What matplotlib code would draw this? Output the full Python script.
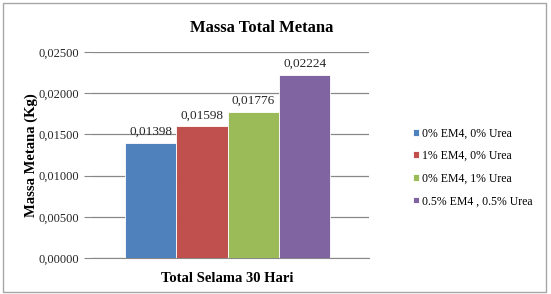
import matplotlib.pyplot as plt
import matplotlib as mpl
import matplotlib.ticker as ticker

mpl.rcParams.update({
    'font.family': ['Liberation Serif', 'DejaVu Serif'],
    'font.size': 8,
})

seri = ['0% EM4, 0% Urea', '1% EM4, 0% Urea', '0% EM4, 1% Urea', '0.5% EM4 , 0.5% Urea']
nilai = [0.01398, 0.01598, 0.01776, 0.02224]
label_nilai = ['0,01398', '0,01598', '0,01776', '0,02224']
kategori = 'Total Selama 30 Hari'
warna = ['#4F81BD', '#C0504D', '#9BBB59', '#8064A2']

fig = plt.figure(figsize=(5.51, 2.94), dpi=100)
# bingkai luar
fig.patches.append(plt.Rectangle((0.006, 0.007), 0.985, 0.983, transform=fig.transFigure,
                                 fill=False, edgecolor='#A6A6A6', linewidth=1))

ax = fig.add_axes([92/551, 1 - 258/294, (369-92)/551, (258-52)/294])

lebar = 0.185
n = len(nilai)
for i, (v, c, s, t) in enumerate(zip(nilai, warna, seri, label_nilai)):
    x = (i - (n - 1) / 2) * lebar - 0.01
    ax.bar(x, v, width=lebar, color=c, edgecolor='white', linewidth=0.6, label=s, zorder=3)
    ax.text(x, v + 0.0006, t, ha='center', va='bottom', fontsize=9.5, color='#262626', zorder=4)

ax.set_xlim(-0.5, 0.5)
ax.set_ylim(0, 0.025)
ax.yaxis.set_major_locator(ticker.MultipleLocator(0.005))
ax.yaxis.set_major_formatter(ticker.FuncFormatter(lambda v, p: f'{v:.5f}'.replace('.', ',')))
ax.set_xticks([-0.01])
ax.set_xticklabels([kategori], fontsize=10.5, fontweight='bold')
ax.tick_params(axis='x', length=0, pad=10)
ax.tick_params(axis='y', length=6, color='#888888', labelsize=9, pad=3, labelcolor='#262626')
ax.grid(axis='y', color='#888888', linewidth=0.9, zorder=0)
for sp in ['top', 'right', 'left']:
    ax.spines[sp].set_visible(False)
ax.spines['bottom'].set_color('#888888')
ax.set_ylabel('Massa Metana (Kg)', fontsize=10.5, fontweight='bold')
ax.yaxis.set_label_coords(-0.195, 0.5)

fig.text(0.475, 0.905, 'Massa Total Metana', ha='center', va='center', fontsize=12, fontweight='bold')

ax.legend(loc='center left', bbox_to_anchor=(1.12, 0.44), frameon=False, fontsize=8.5,
          handlelength=0.5, handleheight=0.5, handletextpad=0.3, labelspacing=0.9)

fig.savefig('out.png', dpi=100)
